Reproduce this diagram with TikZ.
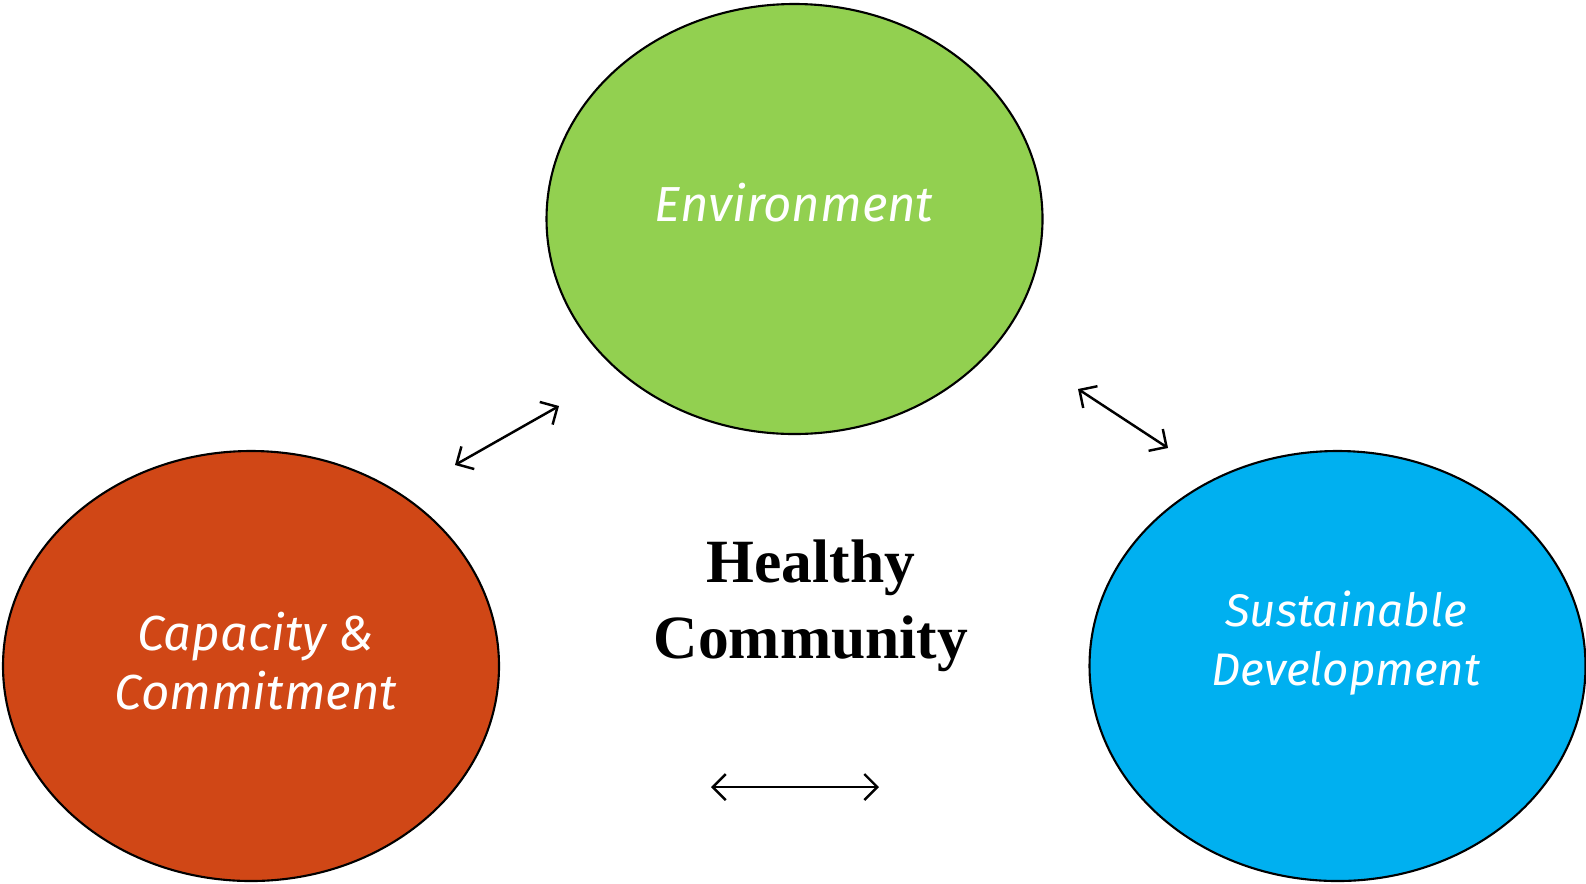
\documentclass[tikz,border=0pt]{standalone}
\usepackage{fontspec}
\setmainfont{Liberation Serif}
\newfontfamily\handfont{Fira Sans}
\usetikzlibrary{shapes.geometric,arrows.meta}
\definecolor{envgreen}{HTML}{92D050}
\definecolor{caporange}{HTML}{D04716}
\definecolor{susblue}{HTML}{00B0F0}
\tikzset{
  blob/.style={draw=black,line width=0.6pt,ellipse,inner sep=0pt,minimum width=4.96cm,minimum height=4.3cm},
  blobtext/.style={text=white,font=\handfont\itshape\fontsize{14}{17}\selectfont,align=center},
  link/.style={line width=0.7pt,{Straight Barb[length=1.3mm,width=2.6mm]}-{Straight Barb[length=1.3mm,width=2.6mm]}}
}
\begin{document}
\begin{tikzpicture}
\useasboundingbox (0,0) rectangle (15.86,-8.83);
\node[blob,fill=envgreen] (env) at (7.945,-2.19) {};
\node[blob,fill=caporange] (cap) at (2.51,-6.66) {};
\node[blob,fill=susblue] (sus) at (13.375,-6.66) {};
\node[blobtext] (envlabel) at (7.94,-2.03) {Environment};
\node[blobtext] (caplabel) at (2.56,-6.61) {Capacity \&\\Commitment};
\node[blobtext,font=\handfont\itshape\fontsize{13}{17}\selectfont] (suslabel) at (13.46,-6.43) {Sustainable\\Development};
\node[font=\bfseries\fontsize{17.5}{21.6}\selectfont,align=center] (hc) at (8.11,-6.06) {Healthy\\Community};
\coordinate (a1) at (4.55,-4.65);
\coordinate (a2) at (5.59,-4.06);
\coordinate (b1) at (10.78,-3.89);
\coordinate (b2) at (11.68,-4.48);
\coordinate (c1) at (7.11,-7.87);
\coordinate (c2) at (8.79,-7.87);
\draw[link] (a1) -- (a2);
\draw[link] (b1) -- (b2);
\draw[link] (c1) -- (c2);
\end{tikzpicture}
\end{document}
